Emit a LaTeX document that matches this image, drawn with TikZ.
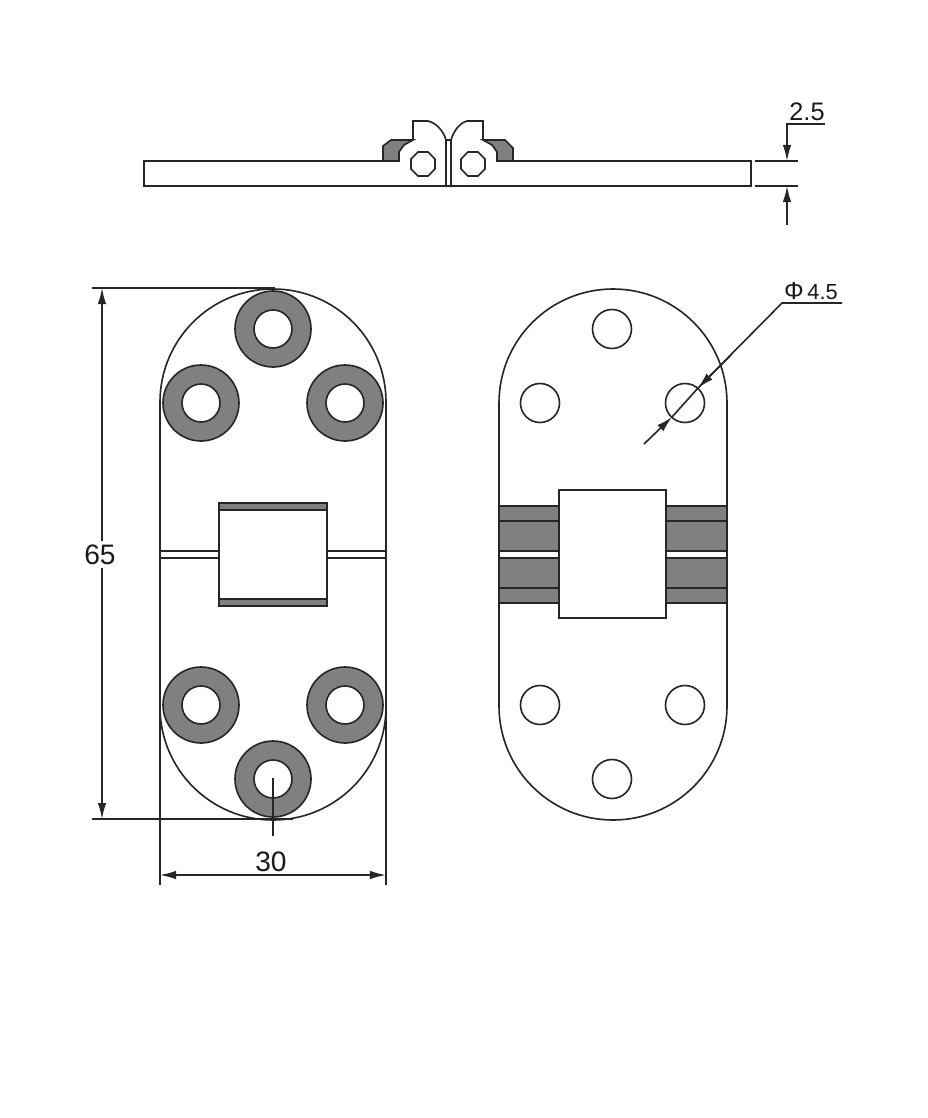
\documentclass[tikz,border=0pt]{standalone}
\usepackage{fontspec}
\setmainfont{Liberation Sans}
\usepackage{tikz}
\usetikzlibrary{arrows.meta}
\definecolor{partgray}{HTML}{808080}
\definecolor{inkdark}{HTML}{262626}
\tikzset{
	part/.style={draw=inkdark, line width=0.46pt},
	dark/.style={part, fill=partgray},
	thin dim/.style={draw=inkdark, line width=0.46pt},
	dimtip/.style={thin dim, -{Latex[length=0.16cm,width=0.085cm]}},
	dimtext/.style={inner sep=0pt, text=black!90, font=\fontsize{8}{10}\selectfont},
	smalltext/.style={inner sep=0pt, text=black!90, font=\fontsize{6.2}{8}\selectfont}
}
\begin{document}
\begin{tikzpicture}[x=0.01cm, y=-0.01cm]
	\useasboundingbox (0,0) rectangle (928,1118);
	% side view
	\draw[part] (399,161) -- (144,161) -- (144,186) -- (751,186) -- (751,161) -- (497,161);
	\draw[dark] (383,161) -- (383,146) -- (391,140) -- (413,140) -- (404,145) -- (399,152) -- (399,161) -- cycle;
	\draw[dark] (513,161) -- (513,148) -- (505,140) -- (483,140) -- (492,145) -- (497,152) -- (497,161) -- cycle;
	\draw[part] (413,140) -- (413,121) -- (428,121) .. controls (436,123) and (443,130) .. (446,140) -- (446,187);
	\draw[part] (483,140) -- (483,121) -- (467,121) .. controls (460,123) and (454,130) .. (451,140) -- (451,187);
	\draw[part] (446,140) -- (451,140);
	\draw[part] (418,152) -- (428,152) -- (435,159) -- (435,169) -- (428,176) -- (418,176) -- (411,169) -- (411,159) -- cycle;
	\draw[part] (468,152) -- (478,152) -- (485,159) -- (485,169) -- (478,176) -- (468,176) -- (461,169) -- (461,159) -- cycle;
	\draw[thin dim] (755,161) -- (798,161);
	\draw[thin dim] (755,186) -- (798,186);
	\draw[thin dim] (825,124) -- (787,124) -- (787,143);
	\draw[dimtip] (787,143) -- (787,161);
	\draw[dimtip] (787,225) -- (787,186);
	\node[dimtext, font=\fontsize{7.2}{10}\selectfont] (sizeThick) at (807,112) {2.5};
	% left plate
	\draw[part] (160,402) arc[start angle=180, end angle=360, radius=113] -- (386,707) arc[start angle=0, end angle=180, radius=113] -- cycle;
	\draw[dark, even odd rule] (273,329) circle (38) (273,329) circle (19);
	\draw[dark, even odd rule] (201,403) circle (38) (201,403) circle (19);
	\draw[dark, even odd rule] (345,403) circle (38) (345,403) circle (19);
	\draw[dark, even odd rule] (201,705) circle (38) (201,705) circle (19);
	\draw[dark, even odd rule] (345,705) circle (38) (345,705) circle (19);
	\draw[dark, even odd rule] (273,779) circle (38) (273,779) circle (19);
	\draw[part] (160,551) -- (219,551);
	\draw[part] (160,558) -- (219,558);
	\draw[part] (327,551) -- (386,551);
	\draw[part] (327,558) -- (386,558);
	\draw[part, fill=white] (219,503) rectangle (327,606);
	\draw[dark] (219,503) rectangle (327,510);
	\draw[dark] (219,599) rectangle (327,606);
	% right plate
	\draw[part] (499,403) arc[start angle=180, end angle=360, radius=114] -- (727,706) arc[start angle=0, end angle=180, radius=114] -- cycle;
	\draw[part] (612,329) circle (19.5);
	\draw[part] (540,403) circle (19.5);
	\draw[part] (685,403) circle (19.5);
	\draw[part] (540,705) circle (19.5);
	\draw[part] (685,705) circle (19.5);
	\draw[part] (612,779) circle (19.5);
	\draw[dark] (499,506) rectangle (559,551);
	\draw[dark] (499,558) rectangle (559,603);
	\draw[dark] (666,506) rectangle (727,551);
	\draw[dark] (666,558) rectangle (727,603);
	\draw[part] (499,521) -- (559,521);
	\draw[part] (499,588) -- (559,588);
	\draw[part] (666,521) -- (727,521);
	\draw[part] (666,588) -- (727,588);
	\draw[part, fill=white] (559,490) rectangle (666,618);
	% dimensions
	\draw[thin dim] (92,288) -- (275,288);
	\draw[thin dim] (92,819) -- (293,819);
	\draw[thin dim] (273,778) -- (273,836);
	\draw[thin dim] (160,707) -- (160,885);
	\draw[thin dim] (386,707) -- (386,885);
	\draw[dimtip] (102,541) -- (102,288);
	\draw[dimtip] (102,568) -- (102,819);
	\node[dimtext] (sizeLength) at (100,555) {65};
	\draw[dimtip] (273,875) -- (160,875);
	\draw[dimtip] (273,875) -- (386,875);
	\node[dimtext] (sizeWidth) at (271,862) {30};
	\draw[thin dim] (842,303) -- (782,303) -- (698,388);
	\draw[dimtip] (730,356) -- (698,388);
	\draw[dimtip] (644,444) -- (672,417);
	\draw[thin dim] (698,388) -- (672,417);
	\node[smalltext] (sizeHole) at (811,291) {{\fontsize{7}{10}\selectfont Φ}\,4.5};
\end{tikzpicture}
\end{document}
